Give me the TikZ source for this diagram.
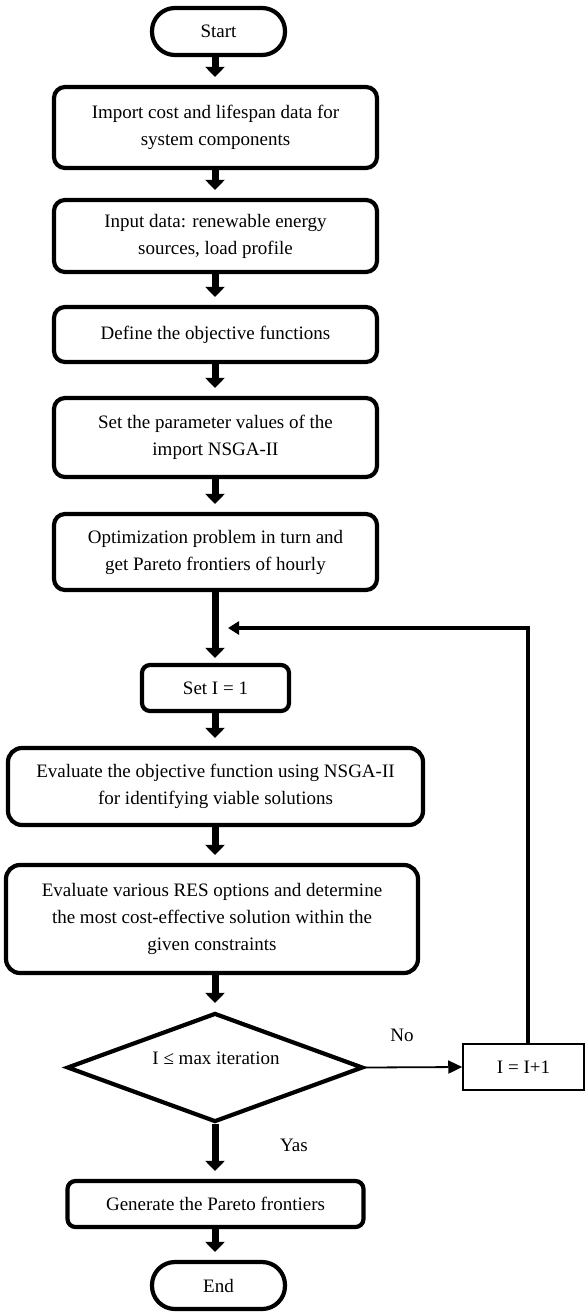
\documentclass[tikz,border=0pt]{standalone}
\usepackage{fontspec}
\setmainfont{Liberation Serif}
\usetikzlibrary{arrows.meta,shapes.geometric,calc}
\begin{document}
\begin{tikzpicture}[x=1pt,y=-1pt,
  every node/.style={font=\fontsize{19}{27}\selectfont},
  box/.style={draw, line width=4.2pt, rounded corners=11pt, align=center, inner sep=0pt},
  term/.style={draw, line width=4.2pt, rounded corners=23pt, inner sep=0pt},
  flow/.style={line width=7pt, -{Triangle[width=19pt,length=10pt]}, shorten >=8pt},
  back/.style={line width=4.2pt, -{Triangle[width=13pt,length=11pt]}},
  thinarrow/.style={line width=1.8pt, -{Triangle[width=13pt,length=14pt]}}
]
\useasboundingbox (0,0) rectangle (588,1314);
\coordinate (ax) at (215,0);
\node[term, minimum width=133pt, minimum height=47pt] (start) at (218.5,31.5) {Start};
\node[box, minimum width=323pt, minimum height=81pt] (b1) at (215.5,127.5) {Import cost and lifespan data for\\system components};
\node[box, minimum width=323pt, minimum height=72pt] (b2) at (215.5,236) {Input data: renewable energy\\sources, load profile};
\node[box, minimum width=323pt, minimum height=55pt] (b3) at (215.5,334.5) {Define the objective functions};
\node[box, minimum width=323pt, minimum height=79pt] (b4) at (215.5,437.5) {Set the parameter values of the\\import NSGA-II};
\node[box, minimum width=323pt, minimum height=76pt] (b5) at (215.5,552) {Optimization problem in turn and\\get Pareto frontiers of hourly};
\node[box, rounded corners=8pt, minimum width=147pt, minimum height=46pt] (seti) at (215.5,688) {Set I = 1};
\node[box, rounded corners=14pt, minimum width=415pt, minimum height=77pt] (eval) at (215.5,786.5) {Evaluate the objective function using NSGA-II\\for identifying viable solutions};
\node[box, rounded corners=14pt, minimum width=412pt, minimum height=108pt] (res) at (212,919) {Evaluate various RES options and determine\\the most cost-effective solution within the\\given constraints};
\node[draw, diamond, line width=4.2pt, minimum width=296pt, minimum height=109pt, inner sep=0pt] (dec) at (215,1067.5) {};
\node (declabel) at (216,1058) {I ≤ max iteration};
\node[draw, line width=1.5pt, minimum width=121pt, minimum height=46pt, inner sep=0pt] (ipp) at (523.5,1067) {I = I+1};
\node[box, rounded corners=8pt, minimum width=296pt, minimum height=46pt] (gen) at (215.5,1204) {Generate the Pareto frontiers};
\node[term, minimum width=133pt, minimum height=47pt] (end) at (218.5,1285.5) {End};
\node (no) at (402,1035) {No};
\node (yas) at (294,1145) {Yas};
\coordinate (fbend) at (228,628);

\draw[flow] (start.south -| ax) -- (b1.north -| ax);
\draw[flow] (b1.south -| ax) -- (b2.north -| ax);
\draw[flow] (b2.south -| ax) -- (b3.north -| ax);
\draw[flow] (b3.south -| ax) -- (b4.north -| ax);
\draw[flow] (b4.south -| ax) -- (b5.north -| ax);
\draw[flow, shorten >=5pt] (b5.south -| ax) -- (seti.north -| ax);
\draw[flow] (seti.south -| ax) -- (eval.north -| ax);
\draw[flow] (eval.south -| ax) -- (res.north -| ax);
\draw[flow] (res.south -| ax) -- (dec.north -| ax);
\draw[flow] (dec.south -| ax) -- (gen.north -| ax);
\draw[flow] (gen.south -| ax) -- (end.north -| ax);
\draw[thinarrow] (dec.east) -- (ipp.west);
\draw[back] ($(ipp.north)+(4.5,0)$) |- (fbend);
\end{tikzpicture}
\end{document}
